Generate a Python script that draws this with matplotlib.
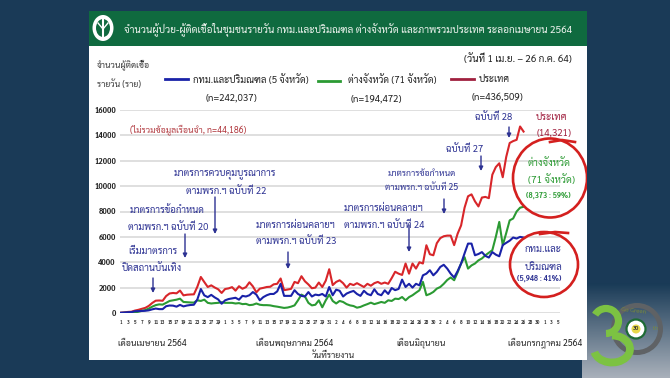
# daily covid cases in thailand, third wave chart
import matplotlib
matplotlib.use("Agg")
import numpy as np
import matplotlib.pyplot as plt
from matplotlib.patches import Rectangle, Circle, Arc, Ellipse

plt.rcParams['font.family'] = ['Sarabun', 'Noto Sans Thai', 'Athiti', 'DejaVu Sans']

# daily values, 1 apr - 26 jul
national_apr = [26, 50, 84, 100, 190, 250, 330, 405, 560, 790, 970, 985, 965, 1335, 1540,
                1580, 1550, 1770, 1390, 1440, 1460, 1470, 2070, 2840, 2440, 2050, 2180, 2010, 1870, 1580]
national_may = [1890, 1940, 2040, 1760, 2110, 1910, 2040, 2420, 2100, 1630, 1920, 1980, 2050, 2070, 2260,
                2300, 2720, 1800, 1850, 1900, 2450, 2350, 2900, 2500, 2250, 1950, 2000, 2400, 2050, 2550, 3450]
national_jun = [2200, 2450, 2580, 2350, 2000, 2300, 2200, 2350, 2200, 2050, 2300, 2150, 2350, 2450, 2300,
                2400, 2300, 2750, 3250, 3100, 3000, 3900, 3100, 3900, 3500, 4000, 3900, 5340, 4630, 4550]
national_jul = [5500, 5900, 6050, 6100, 6100, 5350, 6250, 6900, 8300, 9200, 9350, 8800, 8400,
                9100, 9150, 9050, 10900, 11500, 11800, 10700, 12300, 13400, 13550, 13650, 14700, 14300]

province_apr = [5, 10, 20, 30, 50, 100, 170, 230, 350, 500, 620, 680, 660, 800, 950,
                1000, 1050, 1130, 870, 850, 830, 820, 1000, 950, 1050, 800, 750, 780, 800, 850]
province_may = [800, 800, 800, 750, 780, 700, 720, 620, 650, 750, 650, 620, 620, 600, 540,
                500, 450, 400, 430, 500, 600, 1000, 1450, 1300, 800, 600, 650, 1000, 450, 1000, 1450]
province_jun = [950, 750, 950, 870, 700, 600, 550, 420, 480, 600, 700, 815, 700, 780, 870,
                800, 1000, 950, 1130, 1100, 1260, 1000, 1250, 1400, 1600, 1790, 2450, 1400, 1500, 1660]
province_jul = [1920, 2050, 2300, 2600, 2800, 2580, 3200, 3900, 4400, 3500, 3750, 3900, 4150,
                4300, 4550, 4750, 4950, 6000, 7180, 5340, 6300, 7300, 7450, 8000, 8300, 8373]

metro_apr = [20, 40, 60, 70, 140, 150, 160, 175, 210, 290, 350, 305, 305, 535, 590,
             580, 500, 640, 520, 590, 630, 650, 1070, 1890, 1390, 1250, 1430, 1230, 1070, 730]
metro_may = [1000, 1100, 1150, 1200, 1050, 1350, 1300, 1400, 1650, 1450, 1000, 1250, 1400, 1500, 1500,
             1700, 2300, 1350, 1350, 1350, 1800, 1500, 1350, 1300, 1650, 1300, 1450, 1400, 1500, 1300, 2050]
metro_jun = [1400, 1840, 1750, 1300, 1530, 1650, 1740, 1500, 1350, 1750, 1500, 1400, 1870, 1500, 1400,
             1790, 1500, 1970, 1800, 1900, 2630, 2050, 2300, 2000, 2300, 2180, 2970, 3100, 3370, 2970]
metro_jul = [3240, 3630, 3800, 3500, 3100, 2800, 3300, 3900, 4700, 5470, 5470, 4550, 4650, 4800, 4500,
             4370, 4800, 4600, 4470, 5350, 5530, 5700, 5950, 5870, 6000, 5948]

national = national_apr + national_may + national_jun + national_jul
province = province_apr + province_may + province_jun + province_jul
metro = metro_apr + metro_may + metro_jun + metro_jul

y_ticks = [0, 2000, 4000, 6000, 8000, 10000, 12000, 14000, 16000]
# every other day on the x axis, runs on past the data into august
x_labels = (list(range(1, 30, 2)) + list(range(1, 32, 2)) + list(range(2, 31, 2))
            + list(range(2, 31, 2)) + [1, 3, 5])
x_ticks = list(range(0, 2 * len(x_labels), 2))

C_BG = "#1a3a57"
C_HEAD = "#0f6a3f"
C_NAVY = "#2c3192"
C_RED = "#d8262a"
C_GREEN = "#2b9a33"
C_BLUE = "#1a22a8"
C_CRIMSON = "#a0203f"
C_CIRCLE = "#d4201f"
C_LIME = "#7cc242"

W, H = 670, 378
fig = plt.figure(figsize=(W / 100, H / 100), dpi=100, facecolor=C_BG)

# overlay in pixel coords for panel, header and all the notes
bg = fig.add_axes([0, 0, 1, 1], zorder=0)
bg.set_xlim(0, W)
bg.set_ylim(H, 0)
bg.axis("off")

# grey fade in the lower right corner
fade = np.linspace(0, 1, 60).reshape(-1, 1, 1) * np.array([0.66, 0.69, 0.73]) + \
    np.linspace(1, 0, 60).reshape(-1, 1, 1) * np.array([0.10, 0.23, 0.34])
bg.imshow(fade, extent=(582, W, H, 283), aspect="auto", zorder=1)
bg.set_xlim(0, W)
bg.set_ylim(H, 0)
bg.add_patch(Rectangle((89, 11), 498, 349, fc="white", ec="none", zorder=2))
bg.add_patch(Rectangle((89, 11), 498, 35, fc=C_HEAD, ec="none", zorder=3))

# moph emblem
bg.add_patch(Ellipse((103, 28), 21, 26, fc="white", ec="none", zorder=4))
bg.add_patch(Ellipse((103, 28), 14, 18, fc=C_HEAD, ec="none", zorder=5))
bg.plot([103, 103], [20, 36], color="white", lw=1.5, zorder=6)
bg.plot([98, 103, 108], [23, 29, 23], color="white", lw=1, zorder=6)

# main chart
ax = fig.add_axes([120 / W, 1 - 313 / H, 440 / W, 203 / H], zorder=1)
ax.patch.set_alpha(0)
days = np.arange(len(national))
ax.plot(days, national, color=C_RED, lw=1.5, solid_joinstyle="round")
ax.plot(days, province, color=C_GREEN, lw=1.5, solid_joinstyle="round")
ax.plot(days, metro, color=C_BLUE, lw=1.5, solid_joinstyle="round")
ax.set_xlim(-0.29, 126.5)
ax.set_ylim(0, 16000)
ax.set_yticks(y_ticks)
ax.set_yticklabels([str(v) for v in y_ticks], fontsize=5.5, fontweight="bold", color="#222222")
ax.set_xticks(x_ticks)
ax.set_xticklabels([str(v) for v in x_labels], fontsize=3.4, fontweight="bold", color="#333333")
ax.tick_params(length=0, pad=3)
ax.tick_params(axis="x", pad=5)
ax.grid(axis="y", color="#d9d9d9", lw=1.2)
ax.set_axisbelow(True)
for s in ax.spines.values():
    s.set_visible(False)

# notes on top of everything
top = fig.add_axes([0, 0, 1, 1], zorder=2)
top.set_xlim(0, W)
top.set_ylim(H, 0)
top.axis("off")
top.patch.set_alpha(0)


def note(x, y, s, size=6.9, color=C_NAVY, ha="left", weight="normal"):
    top.text(x, y, s, fontsize=size, color=color, ha=ha, va="center", fontweight=weight)


def arrow(x, y0, y1):
    top.annotate("", xy=(x, y1), xytext=(x, y0),
                 arrowprops=dict(arrowstyle="-|>", color=C_NAVY, lw=1, mutation_scale=6, shrinkA=0, shrinkB=0))


note(124, 29, "จำนวนผู้ป่วย-ผู้ติดเชื้อในชุมชนรายวัน กทม.และปริมณฑล ต่างจังหวัด และภาพรวมประเทศ ระลอกเมษายน 2564",
     size=7.2, color="#eef3ee")

note(97, 65, "จำนวนผู้ติดเชื้อ", size=6.2, color="#333333")
note(97, 84, "รายวัน (ราย)", size=6.2, color="#333333")
note(572, 59, "(วันที่ 1 เม.ย. – 26 ก.ค. 64)", size=7.2, color="#222222", ha="right")

top.plot([165, 188], [79, 79], color=C_BLUE, lw=2)
note(193, 80, "กทม.และปริมณฑล (5 จังหวัด)", size=6.9, color="#222222")
note(231, 98, "(n=242,037)", size=7, color="#222222", ha="center")
top.plot([318, 340], [81, 81], color=C_GREEN, lw=2)
note(348, 80, "ต่างจังหวัด (71 จังหวัด)", size=6.9, color="#222222")
note(376, 99, "(n=194,472)", size=7, color="#222222", ha="center")
top.plot([451, 474], [79, 79], color=C_CRIMSON, lw=2)
note(479, 79, "ประเทศ", size=6.9, color="#222222")
note(497, 98, "(n=436,509)", size=7, color="#222222", ha="center")

note(130, 130, "(ไม่รวมข้อมูลเรือนจำ, n=44,186)", size=6.3, color="#b0363c")

note(174, 174, "มาตรการควบคุมบูรณาการ")
note(186, 191, "ตามพรก.ฯ ฉบับที่ 22")
arrow(215, 197, 234)
note(130, 210, "มาตรการข้อกำหนด")
note(128, 227, "ตามพรก.ฯ ฉบับที่ 20")
arrow(185, 234, 258)
note(128, 251, "เริ่มมาตรการ")
note(122, 268, "ปิดสถานบันเทิง")
arrow(153, 278, 293)
note(256, 225, "มาตรการผ่อนคลายฯ")
note(256, 241, "ตามพรก.ฯ ฉบับที่ 23")
arrow(288, 252, 269)
note(344, 208, "มาตรการผ่อนคลายฯ")
note(344, 225, "ตามพรก.ฯ ฉบับที่ 24")
arrow(409, 225, 252)
note(388, 174, "มาตรการข้อกำหนด", size=6.3)
note(385, 188, "ตามพรก.ฯ ฉบับที่ 25", size=6.3)
arrow(444, 199, 214)
note(446, 149, "ฉบับที่ 27")
arrow(481, 156, 171)
note(475, 117, "ฉบับที่ 28")
arrow(509, 127, 138)

note(536, 117, "ประเทศ", size=7, color=C_CRIMSON)
note(537, 133, "(14,321)", size=7, color=C_CRIMSON)
note(528, 163, "ต่างจังหวัด", size=7.2, color=C_GREEN)
note(528, 180, "(71 จังหวัด)", size=7.2, color=C_GREEN)
note(526, 196, "(8,373 : 59%)", size=5.3, color=C_GREEN, weight="bold")
note(525, 250, "กทม.และ", size=7)
note(525, 267, "ปริมณฑล", size=7)
note(517, 279, "(5,948 : 41%)", size=5.3, weight="bold")

note(118, 343, "เดือนเมษายน 2564", size=6.3, color="#222222")
note(256, 343, "เดือนพฤษภาคม 2564", size=6.3, color="#222222")
note(396, 343, "เดือนมิถุนายน", size=6.3, color="#222222")
note(508, 343, "เดือนกรกฎาคม 2564", size=6.3, color="#222222")
note(312, 355, "วันที่รายงาน", size=6.3, color="#222222")

# hand drawn red circles, the big one gets cut by the panel edge
panel_clip = Rectangle((89, 11), 498, 349, transform=top.transData)
big = Ellipse((550, 178), 74, 79, fc="none", ec=C_CIRCLE, lw=1.9, zorder=5)
top.add_patch(big)
big.set_clip_path(panel_clip)
top.plot([550, 562, 575], [142, 140, 142], color=C_CIRCLE, lw=1.9)
top.add_patch(Ellipse((544, 264.5), 68, 65, fc="none", ec=C_CIRCLE, lw=1.9, zorder=5))
top.plot([540, 555, 568], [234, 232, 233], color=C_CIRCLE, lw=1.9)

# 30 years badge, y is flipped here so arc angles run the other way
top.add_patch(Circle((637, 329), 23.5, fc="none", ec="#5f6265", lw=3.6, zorder=6))
top.add_patch(Arc((606, 321), 25, 25, theta1=-150, theta2=90, ec=C_LIME, lw=5.2, zorder=7))
top.add_patch(Arc((612, 349), 36, 27, theta1=-90, theta2=170, ec=C_LIME, lw=5.6, zorder=7))
top.add_patch(Circle((636, 329), 9.5, fc="white", ec="#1e6b35", lw=1.6, zorder=8))
top.add_patch(Circle((636, 329), 4.5, fc="#e8d84a", ec="none", zorder=8))
top.text(636, 329, "30", fontsize=4, color="#333333", ha="center", va="center", zorder=9, fontweight="bold")
top.text(634, 311, "Go Green", fontsize=4.5, color="#7a8a3a", ha="center", va="center", rotation=-6, zorder=9)
top.text(656, 328, "th", fontsize=4, color="#7a8a3a", ha="center", va="center", zorder=9)

fig.savefig("out.png", dpi=100, facecolor=C_BG)
